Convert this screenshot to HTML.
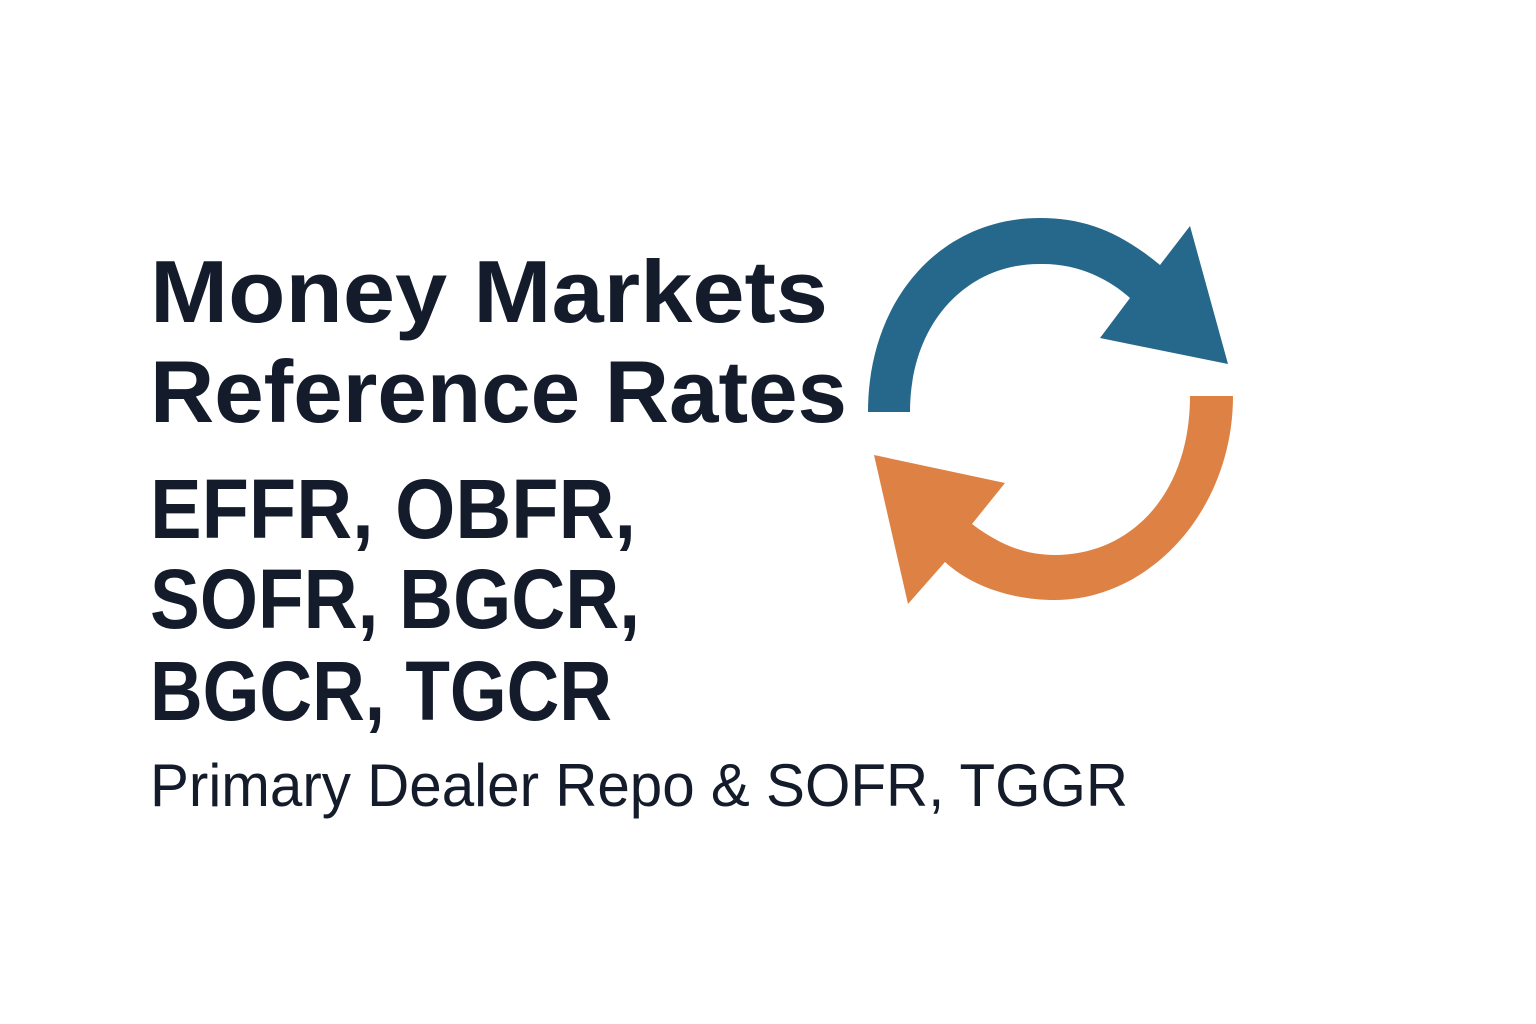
<!DOCTYPE html>
<html>
<head>
<meta charset="utf-8">
<style>
  html, body { margin: 0; padding: 0; background: #ffffff; }
  svg { display: block; }
  text { font-family: "Liberation Sans", "DejaVu Sans", sans-serif; fill: #141c2b; }
</style>
</head>
<body>
<svg width="1536" height="1024" viewBox="0 0 1536 1024">
  <rect x="0" y="0" width="1536" height="1024" fill="#ffffff"/>

  <text x="150" y="322" font-size="88" font-weight="bold" textLength="678" lengthAdjust="spacingAndGlyphs">Money Markets</text>
  <text x="150" y="422" font-size="88" font-weight="bold" textLength="697" lengthAdjust="spacingAndGlyphs">Reference Rates</text>

  <text x="150" y="538" font-size="84" font-weight="bold" textLength="486" lengthAdjust="spacingAndGlyphs">EFFR, OBFR,</text>
  <text x="150" y="628" font-size="84" font-weight="bold" textLength="490" lengthAdjust="spacingAndGlyphs">SOFR, BGCR,</text>
  <text x="150" y="720" font-size="84" font-weight="bold" textLength="462" lengthAdjust="spacingAndGlyphs">BGCR, TGCR</text>

  <text x="150" y="806" font-size="60" textLength="978" lengthAdjust="spacingAndGlyphs">Primary Dealer Repo &amp; SOFR, TGGR</text>

  <path fill="#26688b"
        d="M868,412 L910,412 C910,320 970,262 1043,264 C1080,264 1110,280 1130,298 L1100,338 L1228,364 L1190,226 L1160,265 C1120,232 1085,218 1040,218 C940,218 868,300 868,412 Z"/>
  <path fill="#dd8244"
        d="M1190,396 L1233,396 C1233,510 1150,600 1055,600 C1010,600 970,585 945,562 L908,604 L874,455 L1005,483 L972,524 C1000,545 1025,555 1055,555 C1130,555 1190,495 1190,396 Z"/>
</svg>
</body>
</html>
